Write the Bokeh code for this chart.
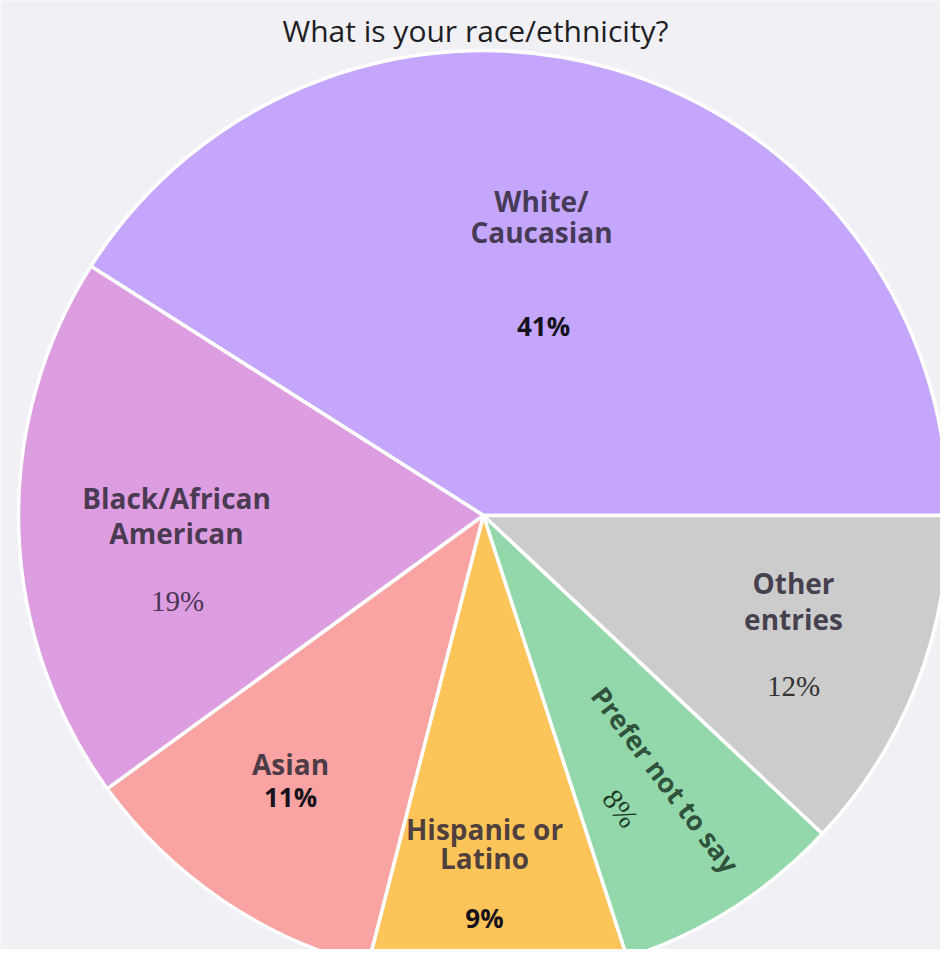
from bokeh.plotting import figure
from bokeh.models import Range1d, ColumnDataSource
from bokeh.core.properties import value
from bokeh.embed import file_html
from bokeh.resources import INLINE
import numpy as np

# ---- data ----
categories = ["White/Caucasian", "Black/African American", "Asian",
              "Hispanic or Latino", "Prefer not to say", "Other entries"]
percents = [41, 19, 11, 9, 8, 12]
colors = ["#c4a6fc", "#dd9de1", "#f9a3a3", "#fdc459", "#92d8ab", "#cccccc"]
title_text = "What is your race/ethnicity?"

W, H = 940, 949
p = figure(width=W, height=H, output_backend="svg", toolbar_location=None,
           x_range=Range1d(0, W), y_range=Range1d(0, H),
           background_fill_color="#f1f0f5", border_fill_color="#f1f0f5",
           min_border=0)
p.axis.visible = False
p.grid.visible = False
p.outline_line_color = None

cx, cy, R = 483, 434, 465
vals = np.array(percents, dtype=float)
ends = np.cumsum(vals) / vals.sum() * 2 * np.pi
starts = np.concatenate([[0.0], ends[:-1]])
src = ColumnDataSource(dict(start=starts, end=ends, color=colors))
p.wedge(x=cx, y=cy, radius=R, start_angle="start", end_angle="end",
        fill_color="color", line_color="white", line_width=3.5, source=src)

label_color = "#2f2838"

def txt(x, y, s, size="28px", font="Open Sans", style="bold", angle=0,
        color=label_color, alpha=0.85):
    # y given as distance from top of picture
    p.text(x=[x], y=[H - y], text=[s], text_font=value(font), text_font_size=size,
           text_font_style=style, text_align="center", text_baseline="middle",
           angle=angle, text_color=color, text_alpha=alpha)

txt(475, 30, title_text, size="30px", style="normal", color="#1e1e24", alpha=1)

pct = [f"{v}%" for v in percents]
serif = "Liberation Serif"
# White/Caucasian
txt(541, 200, "White/")
txt(541, 231, "Caucasian")
txt(543, 325, pct[0], size="26px", color="#15121c", alpha=1)
# Black/African American
txt(176, 497, "Black/African")
txt(176, 532, "American")
txt(177, 600, pct[1], size="29px", font=serif, style="normal", color="#4a3552", alpha=1)
# Asian
txt(290, 763, "Asian")
txt(290, 796, pct[2], size="26px", color="#15121c", alpha=1)
# Hispanic or Latino
txt(484, 828, "Hispanic or")
txt(484, 857, "Latino")
txt(484, 917, pct[3], size="26px", color="#15121c", alpha=1)
# Prefer not to say (rotated)
ang = np.deg2rad(-53)
txt(665, 779, "Prefer not to say", size="27px", angle=ang, color="#1d3a28")
txt(620, 808, pct[4], size="29px", font=serif, style="normal", angle=ang,
    color="#1d3a28", alpha=1)
# Other entries
txt(793, 582, "Other")
txt(793, 618, "entries")
txt(793, 685, pct[5], size="29px", font=serif, style="normal", color="#333333", alpha=1)

open("out.html", "w").write(file_html(p, INLINE))
